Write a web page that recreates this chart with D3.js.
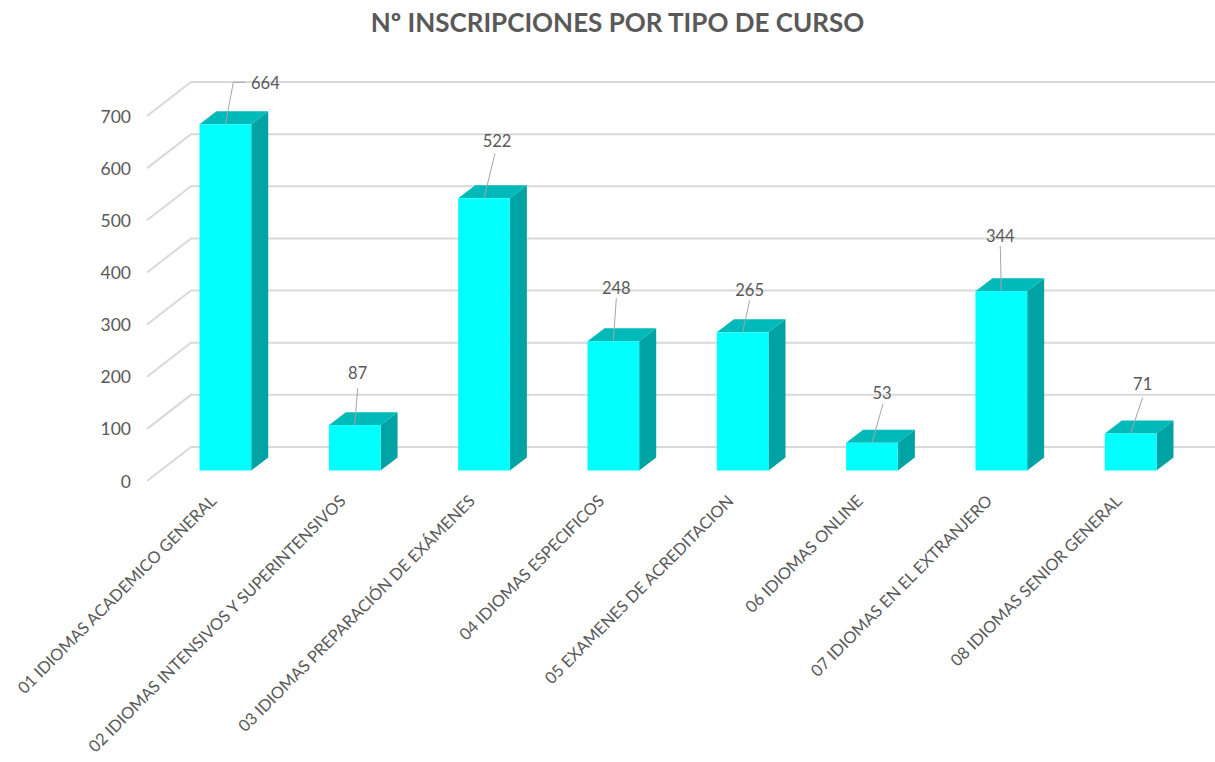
<!DOCTYPE html>
<html>
<head>
<meta charset="utf-8">
<script src="https://cdn.jsdelivr.net/npm/d3@7"></script>
<style>
  html, body { margin: 0; background: #fff; }
  svg { display: block; }
  text { font-family: Lato, "Open Sans", sans-serif; fill: #595959; }
</style>
</head>
<body>
<div id="chart"></div>
<script>
const titleText = 'Nº INSCRIPCIONES POR TIPO DE CURSO';
const categories = [
  '01 IDIOMAS ACADEMICO GENERAL',
  '02 IDIOMAS INTENSIVOS Y SUPERINTENSIVOS',
  '03 IDIOMAS PREPARACIÓN DE EXÁMENES',
  '04 IDIOMAS ESPECIFICOS',
  '05 EXAMENES DE ACREDITACION',
  '06 IDIOMAS ONLINE',
  '07 IDIOMAS EN EL EXTRANJERO',
  '08 IDIOMAS SENIOR GENERAL'
];
const values = [664, 87, 522, 248, 265, 53, 344, 71];
const yTicks = [0, 100, 200, 300, 400, 500, 600, 700];

// leader line end and label offset, measured from the middle of each bar top
const leaderDx = [8, 3, 11, 3, 7, 11, -1, 12];
const leaderDy = [-42, -37, -45, -43, -32, -39, -45, -36];
const labelDx = [40, 3, 13, 3, 7, 10, -1, 12];
const labelDy = [-41, -52, -57, -53, -42, -50, -55, -49];

const width = 1215, height = 762;
const depth = {x: 17, y: -13};      // bar depth
const wall = {x: 44, y: -34};       // floor depth

const svg = d3.select('#chart').append('svg')
  .attr('width', width)
  .attr('height', height);

svg.append('text')
  .attr('x', 617.5)
  .attr('y', 32)
  .attr('text-anchor', 'middle')
  .style('font-size', '26px')
  .style('font-weight', 700)
  .text(titleText);

// y scale sits on the front edge of the floor, gridlines run on the back wall
const y = d3.scaleLinear().domain([0, 700]).range([481, 116]);
const x = d3.scaleBand()
  .domain(categories)
  .range([199.5, 1156.5])
  .paddingInner(0.6)
  .paddingOuter(0);

const barOffset = -10.5;  // bars stand a bit behind the front edge

const grid = svg.append('g');
yTicks.forEach(t => {
  const front = y(t), back = front + wall.y;
  grid.append('path')
    .attr('d', `M147,${front}L${147 + wall.x},${back}L${width},${back}`)
    .attr('fill', 'none')
    .attr('stroke', '#d9d9d9')
    .attr('stroke-width', 2);
});

const axis = svg.append('g')
  .attr('transform', 'translate(131,0.5)')
  .call(d3.axisLeft(y).tickValues(yTicks).tickSize(0).tickPadding(0));
axis.select('.domain').remove();
axis.selectAll('text')
  .style('font-size', '17.5px')
  .style('font-family', 'Lato, sans-serif');

const zero = y(0) + barOffset;
const barH = v => y(0) - y(v);

const bars = svg.selectAll('g.bar')
  .data(values)
  .enter().append('g')
  .classed('bar', true);

bars.append('path')   // side
  .attr('d', (d, i) => {
    const r = x(categories[i]) + x.bandwidth(), t = zero - barH(d);
    return `M${r},${t}l${depth.x},${depth.y}L${r + depth.x},${zero + depth.y}L${r},${zero}Z`;
  })
  .attr('fill', '#00a3a3');

bars.append('path')   // top
  .attr('d', (d, i) => {
    const l = x(categories[i]), t = zero - barH(d);
    return `M${l},${t}l${depth.x},${depth.y}h${x.bandwidth()}l${-depth.x},${-depth.y}Z`;
  })
  .attr('fill', '#00baba');

bars.append('rect')   // front
  .attr('x', (d, i) => x(categories[i]))
  .attr('y', d => zero - barH(d))
  .attr('width', x.bandwidth())
  .attr('height', d => barH(d))
  .attr('fill', '#00ffff');

bars.append('path')   // leader line
  .attr('d', (d, i) => {
    const cx = x(categories[i]) + x.bandwidth() / 2, t = zero - barH(d);
    const ex = cx + leaderDx[i], ey = t + leaderDy[i];
    const tail = i === 0 ? `h12` : '';
    return `M${cx},${t}L${ex},${ey}${tail}`;
  })
  .attr('fill', 'none')
  .attr('stroke', '#a6a6a6')
  .attr('stroke-width', 1);

bars.append('text')
  .attr('x', (d, i) => x(categories[i]) + x.bandwidth() / 2 + labelDx[i])
  .attr('y', (d, i) => zero - barH(d) + labelDy[i])
  .attr('text-anchor', 'middle')
  .attr('dy', '0.35em')
  .style('font-size', '16.5px')
  .text(d => d);

svg.selectAll('text.cat')
  .data(categories)
  .enter().append('text')
  .classed('cat', true)
  .attr('text-anchor', 'end')
  .attr('transform', d => `translate(${x(d) + x.bandwidth() / 2 - 12},498) rotate(-45)`)
  .attr('dy', '0.35em')
  .style('font-size', '16.4px')
  .text(d => d);
</script>
</body>
</html>
